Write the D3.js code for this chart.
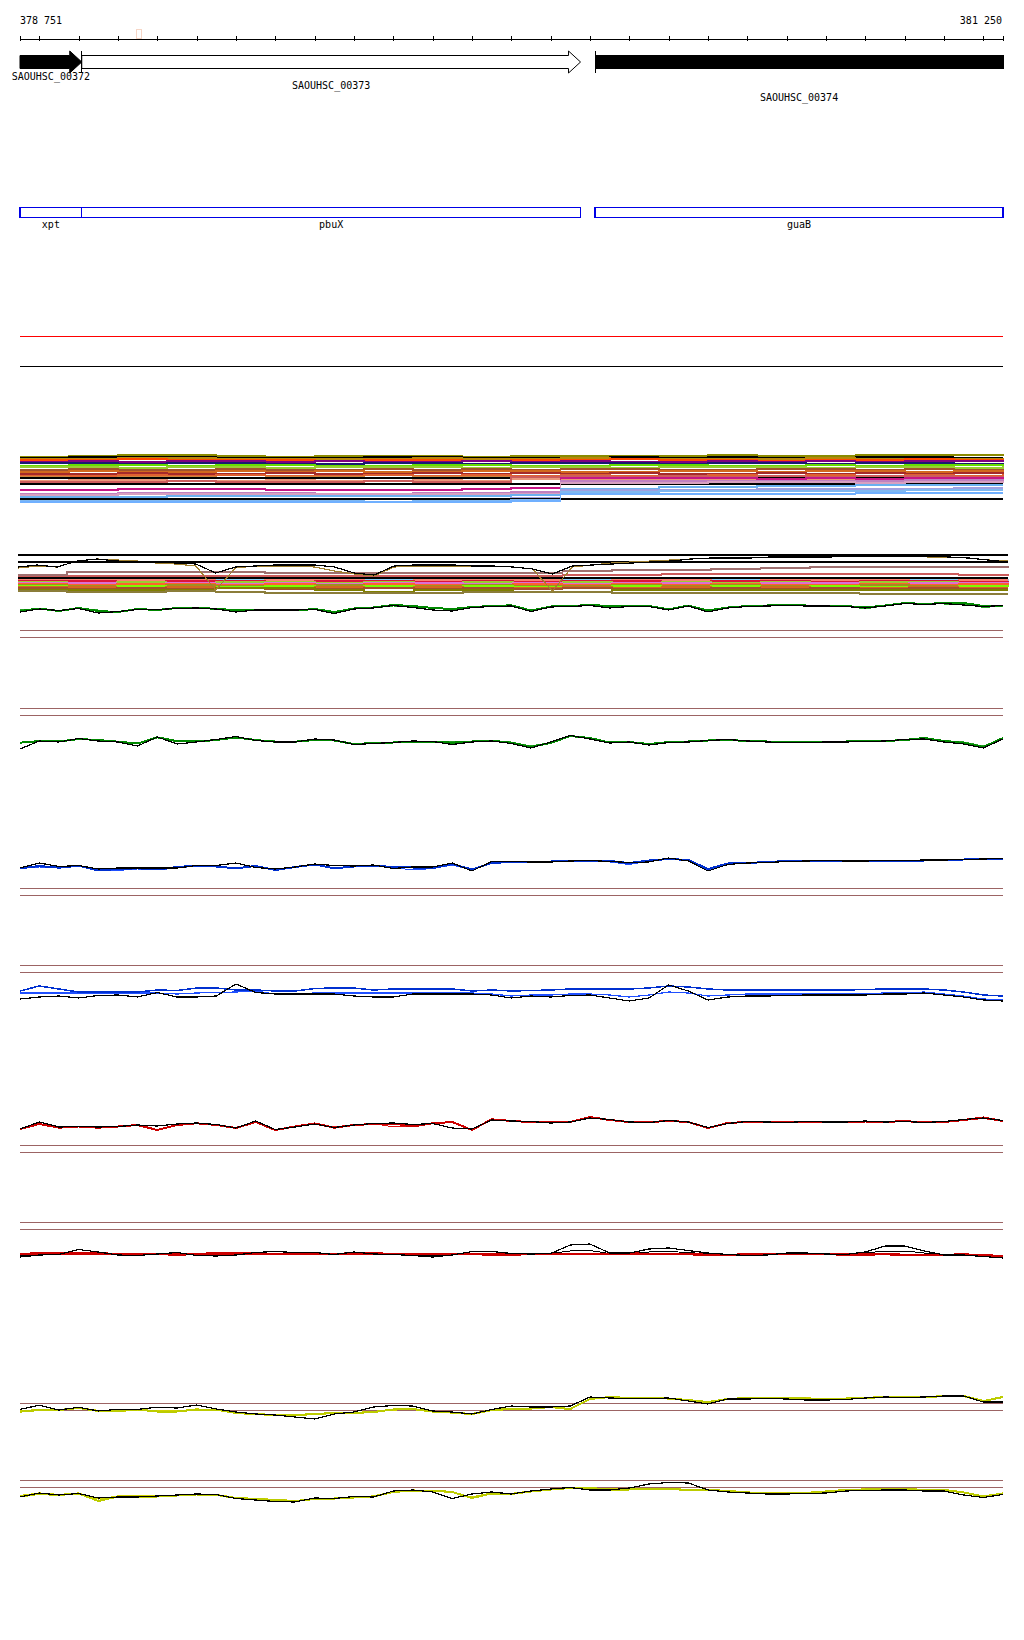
<!DOCTYPE html>
<html><head><meta charset="utf-8">
<script src="https://cdn.jsdelivr.net/npm/d3@7"></script>
<style>
html,body{margin:0;padding:0;background:#fff;}
svg{display:block;}
text{font-family:"DejaVu Sans Mono",monospace;font-size:10px;fill:#000;}
</style></head><body><svg id="c" width="1024" height="1640" shape-rendering="crispEdges"></svg>
<script>
// ---------------- DATA ----------------
const startBp = 378751, endBp = 381250;
const tickValues = [378751,378800,378900,379000,379100,379200,379300,379400,379500,379600,379700,379800,379900,380000,380100,380200,380300,380400,380500,380600,380700,380800,380900,381000,381100,381200,381250];
const geneNames = ["SAOUHSC_00372","SAOUHSC_00373","SAOUHSC_00374"];
const geneStarts = [378700,378908,380213];
const geneEnds = [378908,380176,381300];
const geneFilled = [true,false,true];
const featNames = ["xpt","pbuX","guaB"];
const featStarts = [378700,378908,380213];
const featEnds = [378908,380176,381300];

const gridBp = [378750,378800,378850,378900,378950,379000,379050,379100,379150,379200,379250,379300,379350,379400,379450,379500,379550,379600,379650,379700,379750,379800,379850,379900,379950,380000,380050,380100,380150,380200,380250,380300,380350,380400,380450,380500,380550,380600,380650,380700,380750,380800,380850,380900,380950,381000,381050,381100,381150,381200,381250];
const stepBp = [378750,378875,379000,379125,379250,379375,379500,379625,379750,379875,380000,380125,380250,380375,380500,380625,380750,380875,381000,381125,381250];

// track A (green, + strand)
const trackA_green = [-3,-0.5,-3,0,-3,-4,-1,-2,0,0.5,-1,-2,-2,-2,-2.5,-1,-4,-0.5,0.5,3,2,0,-1,1,2,2.7,-2.5,1.5,2,3,2,2,2,-1.3,2.5,-2.5,0.5,2,2.5,2.7,2.5,2.3,2,0.5,2.5,5,4,5,5,2,2.5];
const trackA_green2 = [-2,-1,-3,-0.5,-2,-4.5,-1,-2,-0.5,0,-1.5,-2,-2.5,-2,-2.5,-1,-4.5,-1,0,2,1.5,-0.5,-1.5,0.5,1.5,2.5,-3,1,1.5,3,1.5,2,2,-1.5,2,-3,0,1.5,2,2.5,2,2.5,2,-1,2.5,5.5,4.5,4,4,0.5,2];
const trackA_black = [-4,-1,-2.5,-0.5,-5,-3.5,-1.5,-1.5,-0.5,0,-1,-4,-2,-2,-2,-1.5,-5.5,-1,0,2.5,0.5,-2,-3,0.5,1.5,2,-3.5,1,1.5,2.5,0,1.5,1.5,-2,2,-4,0,1.5,2,2.5,2,2,1.5,0,2,4.5,3.5,4.5,3,1.5,2.5];
// track B (green, - strand)
const trackB_green = [-1.7,0,-0.5,2,1,-0.7,-2.5,3.7,0,-0.5,1,3.5,1,-0.7,-0.7,1,0.5,-3,-2,-1.5,-0.5,-0.5,-1.7,-0.5,0.3,-1.7,-6,-2,5,3,-1.5,-1,-3,-1,-0.5,0.5,1,0,-0.5,-1,-1,-0.5,-0.5,0,0,1,3,0,-2,-6,3];
const trackB_green2 = [-2,0.5,-0.5,1.5,1,-0.5,-2,3.5,-1,0,1,3,1,0,-0.5,0.5,0,-3,-1.5,-1,0,-0.5,-1,0,0.5,-1,-5,-1.5,4.5,2.5,-1,-0.5,-2.5,-0.5,0,1,1,0.5,0,-0.5,-0.5,0,0,0.5,0.5,1.5,2.5,0.5,-1,-5,2.5];
const trackB_black = [-8,0,-1,2.5,0,-1,-5,4,-3,-1,1.5,4.5,0.5,-1,-1,2,1,-3.5,-2.5,-1.5,0,-0.5,-3.5,-1,0,-2.5,-7,-1,5.5,2,-2,-1,-4,-1.5,-1,0.5,1.5,0,-1,-1.5,-1.5,-1,-1,-0.5,0,1.5,2,-1,-3,-7,2];
// track C (blue, + strand)
const trackC_blue = [-1.3,1,-0.7,1.3,-3.5,-2,-1.3,-2.5,0,1.3,0.5,-1.3,1,-3,0,2.5,-1.3,0.5,1.3,0,-0.5,-1.3,3,-2.5,4,5,5,5.5,6,6,6,4,6.5,8,7,-2,3.5,4,5,6,6,6,6,5.5,6,6,6.5,7,7.5,8,8];
const trackC_blue2 = [-1.5,0,-1,1,-4,-3.5,-2,-3,-1,1,0.5,-1,0.5,-3.5,-0.5,2,-1,0.5,1,-0.5,-3,-1.5,2,-3,3.5,4.5,5,5,6,6,5,2.5,6,7.5,6.5,-3,3,4,5,5.5,6,6,6,5,6,6,6.5,6.5,7,7.5,8];
const trackC_black = [-1,4,0.5,1.5,-2,-1,-1,-1,-1,1.5,1.5,4,-0.5,-2,0,3,1.5,1,2,-1.5,0,0,4,-4,5.5,5.5,5,5,6,6.5,5.5,4.5,5,9,6,-4,2.5,4,4.5,5.5,6,6.5,6,6,6.5,6.5,7,7,7.5,8,8.5];
// track D (blue, - strand)
const trackD_blue = [1,6,3,0,0,0,0,2,1.5,4,4,2,2,1,1,3.5,4,4,2,3,3,3,3,1,2,1,1.5,2,3,3,3,3,4,6,5,3,2,2,2,2,2,2,2,2.5,3,3,3,2,0,-3,-4];
const trackD_blue2 = [-1,-1,-1,-1,-1,-1,-1,-1,-2,-1,-0.5,0,1,-2,-2,-1,-1,-1,-1,-1,-1,-1,-1,-1,-2,-4,-3,-3,-2,-2,-3,-5,-3,0,-1,-4,-3,-2,-2,-2,-2,-2,-2,-1.5,-1,-1,0,-2,-4,-7,-8];
const trackD_black = [-7,-5,-4,-6,-3.5,-3,-5,-0.5,-5,-5,-4,8,-0.5,-2,-2,-2,-2,-4,-5,-5,-2,-2,-2,-2,-3,-6,-4,-5,-3.5,-3,-6,-9,-6,7,1,-8,-5,-4,-4,-3.5,-3,-3,-3,-3,-2,-2,-1,-3,-5,-8,-9];
// track E (red, + strand)
const trackE_red = [-4,1,-2.7,-1.5,-2.7,-1.5,0,-5,0,1.7,0,-3,3,-5,-1.5,1.5,-2.7,0,1,1.5,-1.5,1.7,3,-5,5.7,4,3,2.5,3,8,5,3,3,4,3,-3,2,3,3,2.5,3,3,2.5,3.5,3,4,2.5,3,5,7.5,4];
const trackE_red2 = [-3.5,0.5,-2.5,-1,-2.5,-1,0.5,-4.5,0.5,2,0.5,-2.5,2.5,-4.5,-1,2,-2,0.5,1.5,-2,-1,2,3.5,-4.5,5,4.5,3,3,3.5,7.5,4.5,3.5,2.5,4,3.5,-2.5,2.5,3,3.5,3,3,3.5,3,3,3.5,4,3,3,4.5,6.5,4];
const trackE_black = [-4,3,-2,-1.5,-2,-1.5,0,-1,1,2,0.5,-3,4,-4.5,-2,1,-2.5,0,1.5,2,0.5,1.5,-3,-4,5,4,3.5,2,3,7,5.5,3,2.5,4.5,3,-2.5,1.5,3.5,3,2.5,3.5,3,3,4,3,3.5,2.5,3.5,5.5,7,4.5];
// track F (red, - strand)
const trackF_red = [0,0.5,0.5,0.5,0.5,0,0,0,-0.5,0,0.5,0.5,0.5,0,0,0,0,0.5,0.5,0,0,0,0,0,-0.5,-0.5,0,0,0,0,0,0.5,0,0,0,-1,-1,-0.5,0,0,0,0,-0.5,-0.5,0,-1,-1,-1,-0.5,-1.5,-2];
const trackF_black2 = [-2,0,0,1.5,0.5,-0.5,-1,0,0.5,-1,-1,-0.5,0.5,1,0.5,0.5,0,1,0,-0.5,-0.5,-2,-0.5,1,1,0,0,0.5,3,3.5,0.5,0.5,2,2.5,1.5,0,-0.5,-1,-0.5,0.5,0.5,0,0,1,3,3,1,-0.5,-0.5,-2,-3];
const trackF_black = [-3,-1,-0.5,4.5,2,-1,-1.5,0,1.5,-1.5,-2,-1,1.5,2.5,1.5,1.5,-0.5,2,0,-0.5,-1.5,-3,-1,2.5,2.5,0.5,0,0.5,9,10,1,1,5,6,3.5,1,-0.5,-1.5,-1,1,1,0,-0.5,2,8,8,3,-1,-1,-2.5,-4];
// track G (yellow, + strand)
const trackG_yellow = [-3.7,-2,-2,0,-3,-3,-1.5,-3.5,-3.5,-1.5,-1.5,-5,-6,-7,-7,-6,-5,-5,-4,-1.5,-1,-3.5,-4.5,-6,-2,-1,-0.5,1,-1,9,11,10,10,9.5,8,6,9,10,10,10,9.5,9,9.5,10,11,11,10.5,12,12,7,11];
const trackG_yellow2 = [-3,-1.5,-2.5,0.5,-2.5,-3.5,-2,-3,-3,-1,-2,-5.5,-6.5,-7.5,-7.5,-6.5,-5.5,-4.5,-3.5,-2,-1.5,-4,-5,-6.5,-2.5,-1.5,-1,0.5,-1.5,9.5,10.5,10,10.5,9,7.5,5.5,8.5,10.5,10.5,10.5,10,9.5,9,10.5,11.5,11.5,11,12.5,11.5,6.5,10.5];
const trackG_black = [-1.3,2.7,-2,0.7,-3,-1.3,-1.3,0.7,0,3,-1,-4,-6,-7,-9,-11,-6,-4,1,2.5,2,-3,-4,-6,-1.5,2,1,1,2,11,10,9.5,9.5,10,7,4,9,9,9.5,9,8,8,8.5,10,11,10.5,11,12,12,6,6];
// track H (yellow, - strand)
const trackH_yellow = [-2.5,0,-1,0.5,-7,-2.5,-2.5,-2.5,-1.5,-0.5,-1,-4,-5,-6,-7,-5,-4.5,-3.5,-2.5,2,3.5,3.5,2,-4,0.5,0,2.5,4.5,6,6,4.5,4.5,5,5,4,4,3,1.5,0.5,0.5,1,2.5,4,4.5,5,5,4,4,1.5,-2.5,0.5];
const trackH_yellow2 = [-1.5,1,-0.5,1,-5,-2,-2,-2,-1,0,-0.5,-3.5,-4.5,-5.5,-6.5,-5.5,-5,-3,-2,2.5,4,3,1.5,-3,1,0.5,3,5,6.5,5.5,5,5,5.5,5.5,4.5,4.5,3.5,2,1,1,1.5,3,4.5,5,5.5,5.5,4.5,4.5,2,-2,1];
const trackH_black = [-3,1,-1,0.5,-4,-3,-3,-2,-1,0,-0.5,-4.5,-6,-7.5,-8,-4,-4.5,-2.5,-3,3,4,2,-4.5,0,2,0,3,5,6.5,4,4,6,10,11.5,11,4,2,1,0,0,0.5,1,3,3.5,4,4,3,3,-1,-3.5,-0.5];
// threshold levels per track
const trackThresholds = [[-22,-29],[33,26],[-21,-28],[27,20],[-20,-27],[32,25],[5,-2],[14,7]];

// multi-sample band 1 (depth rank)
const band1Colors = ["#8b8b00","#000000","#b8860b","#ff4500","#800080","#191970","#66dd00","#9acd32","#a0522d","#d2691e","#a52a2a","#e06030","#cd853f","#000000","#e9967a","#cd5c5c","#000000","#c71585","#c080c0","#d8a0c0","#6ab0f0","#a0a0e0","#000000","#80b8f0","#70b0ff"];
const band1Levels = [
[7,6,5,5,6,7,6,6,6,7,6,6,6,6,5,6,6,5,5,5,4],
[8,7,7,7,8,8,8,7,7,8,8,8,7,8,7,8,8,7,7,8,8],
[9,9,8,8,9,9,9,9,8,9,9,8,9,9,9,9,8,9,9,9,8],
[10,10,9,10,10,10,11,10,10,11,10,10,9,10,10,11,10,10,9,10,9],
[12,11,12,11,11,12,11,12,12,11,12,11,12,12,11,12,11,12,11,11,10],
[13,13,14,13,13,14,14,13,13,14,13,13,13,14,13,13,14,13,13,14,13],
[16,15,15,16,15,15,16,16,15,15,16,16,15,15,16,16,15,16,15,15,14],
[17,17,18,17,17,18,17,17,17,18,17,17,18,17,17,17,18,17,17,18,16],
[20,19,20,20,19,20,20,19,20,19,20,19,19,20,20,19,19,20,19,20,19],
[22,21,22,22,21,22,21,22,22,21,21,22,22,21,21,22,21,21,22,21,20],
[24,24,23,24,24,23,24,24,23,24,23,24,23,24,24,23,24,23,24,23,22],
[26,26,25,26,25,26,26,25,26,25,26,25,26,26,25,26,25,26,25,26,24],
[27,28,27,27,28,27,27,28,27,27,28,27,27,28,27,27,27,28,27,27,26],
[28,28,28,28,28,28,28,28,28,28,28,28,28,28,28,28,28,28,28,28,28],
[31,30,30,31,31,30,31,31,30,31,29,30,30,29,30,30,29,30,30,29,28],
[32,32,32,31,32,32,32,31,32,32,27,26,27,26,27,26,27,26,26,27,26],
[34,34,34,34,34,34,34,34,34,34,34,34,34,34,34,34,34,34,34,34,34],
[40,40,39,39,39,40,40,40,40,39,38,28,28,28,28,29,28,29,28,28,27],
[44,44,43,43,43,43,44,44,43,43,42,31,31,31,31,31,31,31,30,30,29],
[45,45,44,44,44,44,44,44,44,44,44,33,33,33,32,32,32,33,32,32,31],
[47,47,47,46,46,46,46,46,46,46,45,39,39,37,37,36,36,35,35,35,35],
[50,49,49,49,49,50,49,49,50,49,48,40,40,40,40,39,39,39,39,38,38],
[49,49,49,49,49,49,49,49,49,49,49,49,49,49,49,49,49,49,49,49,49],
[51,51,51,51,51,51,51,52,51,51,50,42,42,41,41,41,41,41,40,40,40],
[52,52,52,52,52,52,52,52,52,52,51,44,44,44,44,44,44,43,43,43,43]
];

// multi-sample band 2
const band2Colors = ["#87cefa","#fa8072","#dc143c","#9acd32","#da70d6","#ff6030","#a09020","#7cfc00","#d2691e","#a0522d","#808000","#8b7d3a","#cd5c5c","#a07070","#000000","#000000","#000000"];
const band2Levels = [
[29,29,29,30,29,29,30,29,29,30,29,29,29,30,29,29,29,30,29,30,29],
[30,30,30,30,31,30,30,31,30,30,30,31,30,30,31,30,30,30,31,30,30],
[31,31,32,31,31,32,31,31,32,31,32,31,31,32,31,31,32,31,31,32,31],
[32,33,32,33,32,32,33,32,33,32,33,32,33,32,33,32,33,32,32,33,32],
[33,33,34,33,34,33,34,33,33,34,33,34,33,33,34,33,33,34,33,33,34],
[34,35,34,34,35,34,35,34,35,35,34,35,34,35,34,35,35,34,35,34,35],
[35,36,36,35,36,36,35,36,36,35,36,36,35,36,35,36,36,35,36,36,35],
[36,37,36,37,37,36,37,36,37,36,37,37,36,37,36,37,36,37,37,36,37],
[37,37,38,37,38,38,37,38,37,38,38,37,38,37,38,37,38,38,37,38,38],
[38,39,38,39,38,39,39,38,39,38,39,38,39,39,38,39,38,39,38,39,39],
[40,40,40,40,38,38,40,42,40,40,42,42,40,40,40,40,40,40,40,40,40],
[41,42,42,41,42,43,43,43,43,42,42,42,43,43,43,43,43,44,44,44,44],
[26,26,26,26,26,26,26,26,26,26,26,25,25,24,24,24,24,24,24,25,26],
[25,22,22,22,22,23,23,23,23,23,23,21,20,20,19,18,17,17,17,17,18],
[5,5,5,5,5,5,5,5,5,5,5,5,5,5,5,5,5,5,5,5,5],
[12,12,12,12,12,12,12,12,12,12,12,12,12,12,12,12,12,12,12,12,12],
[28,28,28,28,28,28,28,28,28,28,28,28,28,28,28,28,28,28,28,28,28]
];
const band2Black = [17,15,17,11,9,11,12,12,13,14,23,17,16,15,15,15,17,23,25,16,15,15,15,16,16,17,19,24,16,15,14,13,12,11,9,8,8,8,7,7,7,7,6,6,6,6,6,7,8,10,12];
const band2Olive = [18,16,17,11,9,10,11,13,14,16,40,18,16,16,16,17,21,24,26,17,16,16,16,16,16,17,19,41,17,15,13,12,11,10,9,8,8,8,7,7,7,7,6,6,6,6,7,7,8,10,11];

// ---------------- LAYOUT / STYLE ----------------
const svg = d3.select("#c");
const x = d3.scaleLinear().domain([startBp, endBp]).range([20, 1003]).clamp(true);
const x2 = d3.scaleLinear().domain([startBp, endBp]).range([18, 1008]).clamp(true);
const fmt = v => String(v).replace(/(\d{3})$/, " $1");

// ruler
svg.append("text").attr("x", 20).attr("y", 24).text(fmt(startBp));
svg.append("text").attr("x", 1002).attr("y", 24).attr("text-anchor", "end").text(fmt(endBp));
const axisG = svg.append("g").attr("transform", "translate(0,38.5)")
  .call(d3.axisBottom(x).tickValues(tickValues).tickSize(5).tickSizeOuter(0).tickFormat(""));
axisG.select(".domain").attr("stroke", "#000");
axisG.selectAll(".tick line").attr("y1", -2.5).attr("y2", 2.5).attr("stroke", "#000");
svg.append("rect").attr("x", 136.5).attr("y", 29.5).attr("width", 5).attr("height", 9)
  .attr("fill", "#fff").attr("stroke", "#f6d6c6");

// genes
const geneLabelY = [80, 89, 101];
geneNames.forEach((name, i) => {
  const x0 = x(geneStarts[i]), x1 = x(geneEnds[i]);
  const hasArrow = geneEnds[i] <= endBp, hasStart = geneStarts[i] >= startBp;
  const fill = geneFilled[i] ? "#000" : "#fff";
  if (hasArrow) {
    const hx = x1 - 12;
    svg.append("path").attr("d", `M${x0},55.5H${hx}V51L${x1},62L${hx},73V68.5H${x0}Z`)
      .attr("fill", fill).attr("stroke", "#000").attr("stroke-width", 1).attr("shape-rendering", "auto");
  } else {
    svg.append("rect").attr("x", x0).attr("y", 55.5).attr("width", x1 - x0).attr("height", 13)
      .attr("fill", fill).attr("stroke", "#000");
  }
  if (hasStart) {
    svg.append("line").attr("x1", x0).attr("x2", x0).attr("y1", 51).attr("y2", 72.5).attr("stroke", "#000");
  }
  svg.append("text").attr("x", (x0 + x1) / 2).attr("y", geneLabelY[i]).attr("text-anchor", "middle").text(name);
});

// features
featNames.forEach((name, i) => {
  const x0 = x(featStarts[i]), x1 = x(featEnds[i]);
  svg.append("rect").attr("x", x0).attr("y", 207.5).attr("width", x1 - x0).attr("height", 10)
    .attr("fill", "none").attr("stroke", "#0000e6").attr("stroke-width", 1.3);
  svg.append("text").attr("x", (x0 + x1) / 2).attr("y", 228).attr("text-anchor", "middle").text(name);
});

// separator lines
svg.append("line").attr("x1", x(startBp)).attr("x2", x(endBp)).attr("y1", 336.5).attr("y2", 336.5).attr("stroke", "#ff0000");
svg.append("line").attr("x1", x(startBp)).attr("x2", x(endBp)).attr("y1", 366.5).attr("y2", 366.5).attr("stroke", "#000");

// band 1
const yB1 = d3.scaleLinear().domain([0, 60]).range([450, 510]);
const stepLine = (xs, ys) => d3.line().x((d, i) => xs(stepBp[i])).y(d => ys(d)).curve(d3.curveStepAfter);
band1Levels.forEach((vals, k) => {
  svg.append("path").attr("d", stepLine(x, yB1)(vals)).attr("fill", "none")
    .attr("stroke", band1Colors[k]).attr("stroke-width", band1Colors[k] === "#000000" ? 1.2 : 1.8);
});

// band 2
const yB2 = d3.scaleLinear().domain([0, 50]).range([550, 600]);
band2Levels.forEach((vals, k) => {
  svg.append("path").attr("d", stepLine(x2, yB2)(vals)).attr("fill", "none")
    .attr("stroke", band2Colors[k]).attr("stroke-width", band2Colors[k] === "#000000" ? 1.2 : 1.6);
});
const gridLine = (xs, ys) => d3.line().x((d, i) => xs(gridBp[i])).y(d => ys(d));
svg.append("path").attr("d", gridLine(x2, yB2)(band2Olive)).attr("fill", "none").attr("stroke", "#a08030").attr("stroke-width", 1.2);
svg.append("path").attr("d", gridLine(x2, yB2)(band2Black)).attr("fill", "none").attr("stroke", "#000").attr("stroke-width", 1.2);

// score tracks
const trackCenters = [608, 741, 867, 992, 1125, 1254, 1408, 1494];
const trackSeries = [
  [[trackA_green2, "#20a020", 1], [trackA_green, "#008800", 2], [trackA_black, "#000", 1.2]],
  [[trackB_green2, "#20a020", 1], [trackB_green, "#008800", 2], [trackB_black, "#000", 1.2]],
  [[trackC_blue2, "#2050ff", 1], [trackC_blue, "#0030d0", 2], [trackC_black, "#000", 1.2]],
  [[trackD_blue2, "#2050ff", 1.2], [trackD_blue, "#0030d0", 1.5], [trackD_black, "#000", 1.2]],
  [[trackE_red2, "#e01010", 1], [trackE_red, "#cc0000", 2], [trackE_black, "#000", 1.2]],
  [[trackF_black2, "#000", 1], [trackF_red, "#cc0000", 2.5], [trackF_black, "#000", 1.2]],
  [[trackG_yellow2, "#d0d000", 1.2], [trackG_yellow, "#bccc00", 2], [trackG_black, "#000", 1.2]],
  [[trackH_yellow2, "#d0d000", 1.2], [trackH_yellow, "#bccc00", 2], [trackH_black, "#000", 1.2]]
];
trackCenters.forEach((c, t) => {
  const y = d3.scaleLinear().domain([-30, 30]).range([c + 30, c - 30]);
  trackThresholds[t].forEach(v => {
    svg.append("line").attr("x1", x(startBp)).attr("x2", x(endBp)).attr("y1", y(v) + 0.5).attr("y2", y(v) + 0.5)
      .attr("stroke", "#9c6464").attr("stroke-width", 1);
  });
  trackSeries[t].forEach(([vals, col, w]) => {
    svg.append("path").attr("d", gridLine(x, y)(vals)).attr("fill", "none")
      .attr("stroke", col).attr("stroke-width", w).attr("stroke-linejoin", "round");
  });
});
</script></body></html>
